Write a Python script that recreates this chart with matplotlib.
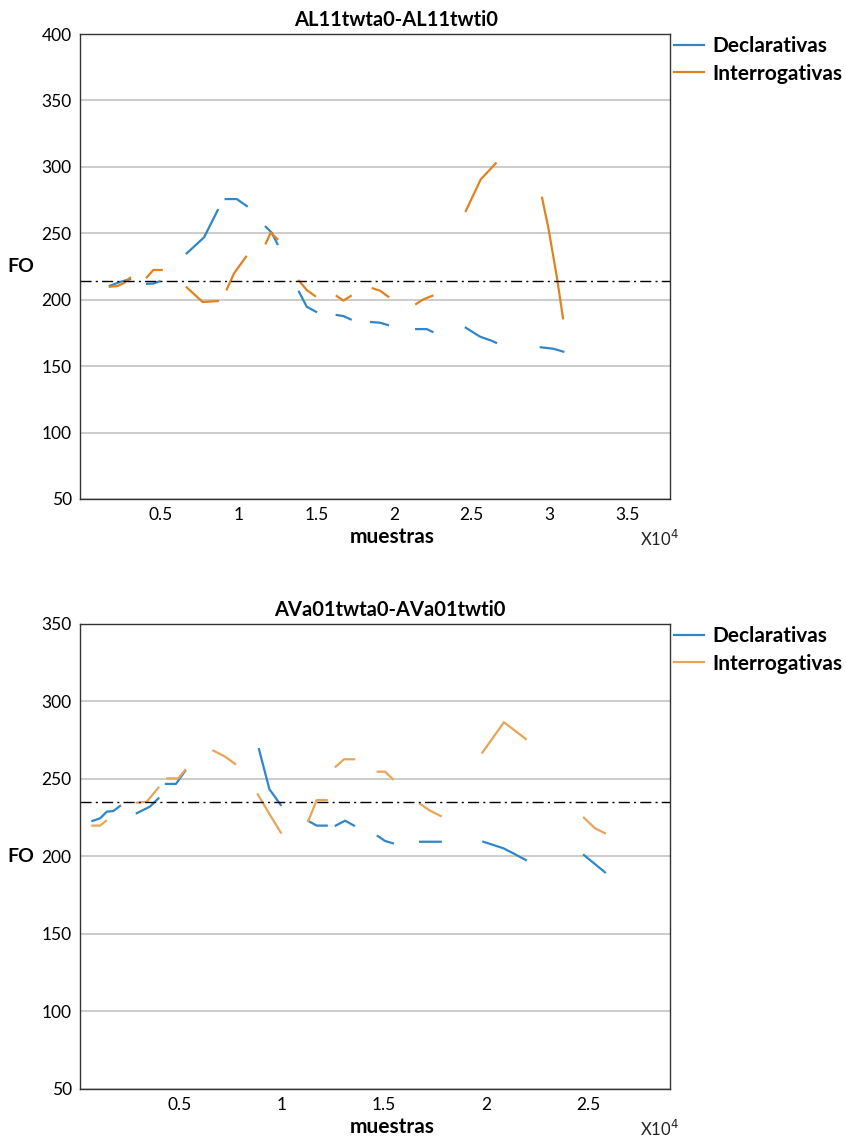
import matplotlib
matplotlib.use("Agg")
import matplotlib.pyplot as plt
import numpy as np

nan = np.nan

# --- data (samples, F0 in Hz); NaN separates the voiced stretches ---
top_title = "AL11twta0-AL11twti0"
top_decl_x = [1700, 2400, 3000, nan, 4100, 4500, 4900, nan, 6650, 7770, 8650, nan,
              9160, 9870, 10520, nan, 11740, 12130, 12490, nan, 13880, 14380, 14980, nan,
              16310, 16740, 17210, nan, 18520, 19100, 19610, nan, 21420, 22100, 22470, nan,
              24620, 25540, 26290, 26570, nan, 29450, 30260, 30900]
top_decl_y = [210.5, 213.5, 215.5, nan, 212.0, 212.2, 213.8, nan, 234.9, 247.0, 267.5, nan,
              275.8, 275.8, 270.5, nan, 254.9, 250.4, 241.9, nan, 206.0, 194.7, 190.9, nan,
              188.5, 187.7, 185.2, nan, 183.2, 182.7, 180.9, nan, 177.9, 177.9, 175.9, nan,
              178.9, 172.2, 169.1, 167.6, nan, 164.2, 163.1, 160.9]
top_int_x = [1700, 2200, 2600, 3000, nan, 4080, 4500, 5040, nan, 6650, 7680, 8650, nan,
             9230, 9700, 10470, nan, 11740, 12060, 12490, nan, 13880, 14380, 14910, nan,
             16310, 16740, 17210, nan, 18630, 19100, 19630, nan, 21420, 21890, 22470, nan,
             24620, 25580, 26550, nan, 29530, 29940, 30480, 30880]
top_int_y = [209.8, 210.3, 212.5, 216.5, nan, 216.8, 222.4, 222.4, nan, 209.3, 198.3, 199.0, nan,
             207.8, 219.9, 232.4, nan, 242.4, 250.4, 245.7, nan, 214.3, 207.3, 202.8, nan,
             202.8, 199.3, 202.8, nan, 208.6, 206.8, 202.3, nan, 196.8, 200.3, 203.0, nan,
             266.8, 290.6, 302.7, nan, 276.8, 253.8, 217.3, 186.0]
top_mean = 214.1

bot_title = "AVa01twta0-AVa01twti0"
bot_decl_x = [700, 1080, 1410, 1730, 2060, nan, 2880, 3530, 3940, nan, 4310, 4800, 5250, nan,
              8870, 9380, 9940, nan, 11290, 11700, 12190, nan, 12630, 13090, 13530, nan,
              14690, 15050, 15430, nan, 16770, 17780, nan, 19870, 20850, 21340, 21950, nan,
              24800, 25830]
bot_decl_y = [222.9, 224.6, 228.9, 229.3, 232.6, nan, 227.9, 232.2, 237.5, nan, 246.8, 246.8, 255.2, nan,
              269.2, 243.4, 233.2, nan, 222.9, 219.9, 219.9, nan, 219.9, 223.1, 219.9, nan,
              213.2, 210.0, 208.5, nan, 209.5, 209.5, nan, 209.5, 205.3, 202.0, 197.7, nan,
              200.9, 189.8]
bot_int_x = [700, 1080, 1370, nan, 2880, 3370, 3940, nan, 4380, 4920, 5250, nan,
             6630, 7210, 7700, nan, 8810, 9410, 9940, nan, 11290, 11700, 12190, nan,
             12630, 13040, 13530, nan, 14690, 15050, 15430, nan, 16770, 17260, 17780, nan,
             19820, 20880, 21950, nan, 24800, 25340, 25830]
bot_int_y = [219.9, 219.9, 222.9, nan, 234.7, 235.3, 244.4, nan, 250.4, 250.4, 255.8, nan,
             268.3, 264.4, 259.7, nan, 240.1, 226.8, 215.4, nan, 222.9, 236.4, 236.4, nan,
             257.9, 262.7, 262.7, nan, 254.7, 254.7, 249.9, nan, 233.9, 229.5, 226.1, nan,
             267.0, 286.6, 275.8, nan, 225.0, 218.2, 215.0]
bot_mean = 235.2

plt.rcParams["font.family"] = ["Lato", "DejaVu Sans"]

fig = plt.figure(figsize=(8.46, 11.39), dpi=100)
ax1 = fig.add_axes([0.0946, 0.5619, 0.6974, 0.4082])
ax2 = fig.add_axes([0.0946, 0.0439, 0.6974, 0.4083])

blue = "#2f86c8"


def draw(ax, title, title_x, dx, dy, ix, iy, mean, orange, xlim, ylim, yticks, xticks, xlabs):
    ax.plot(dx, dy, color=blue, lw=1.6, label="Declarativas")
    ax.plot(ix, iy, color=orange, lw=1.6, label="Interrogativas")
    ax.axhline(mean, color="black", lw=1.0, linestyle=(0, (8, 3, 1.5, 3)))
    ax.set_xlim(*xlim)
    ax.set_ylim(*ylim)
    ax.set_yticks(yticks)
    ax.set_xticks(xticks)
    ax.set_xticklabels(xlabs)
    ax.grid(True, axis="y", color="#c4c4c4", lw=1.2)
    ax.set_axisbelow(True)
    ax.tick_params(length=0, labelsize=12.5, pad=6)
    for s in ax.spines.values():
        s.set_color("#333333")
        s.set_linewidth(1.0)
    ax.set_title(title, fontsize=14.5, fontweight="bold", pad=6, x=title_x)
    ax.set_xlabel("muestras", fontsize=15, fontweight="bold", labelpad=3, x=0.529)
    ax.set_ylabel("FO", fontsize=14, fontweight="bold", rotation=0, labelpad=15, va="center")
    ax.text(0.949, -0.085, "X10$^{4}$", transform=ax.transAxes, ha="left", va="center",
            fontsize=12, color="#222222")
    ax.legend(loc="upper left", bbox_to_anchor=(1.0, 1.004), frameon=False,
              borderaxespad=0.1, borderpad=0.1, handlelength=1.45, handletextpad=0.4,
              labelspacing=0.35, prop={"weight": "bold", "size": 15})


draw(ax1, top_title, 0.536, top_decl_x, top_decl_y, top_int_x, top_int_y, top_mean, "#e0821e",
     (-219, 37770), (50, 400), np.arange(50, 401, 50),
     [5000, 10000, 15000, 20000, 25000, 30000, 35000],
     ["0.5", "1", "1.5", "2", "2.5", "3", "3.5"])
draw(ax2, bot_title, 0.525, bot_decl_x, bot_decl_y, bot_int_x, bot_int_y, bot_mean, "#e8a458",
     (98, 29020), (50, 350), np.arange(50, 351, 50),
     [5000, 10000, 15000, 20000, 25000],
     ["0.5", "1", "1.5", "2", "2.5"])

fig.savefig("out.png", dpi=100)
